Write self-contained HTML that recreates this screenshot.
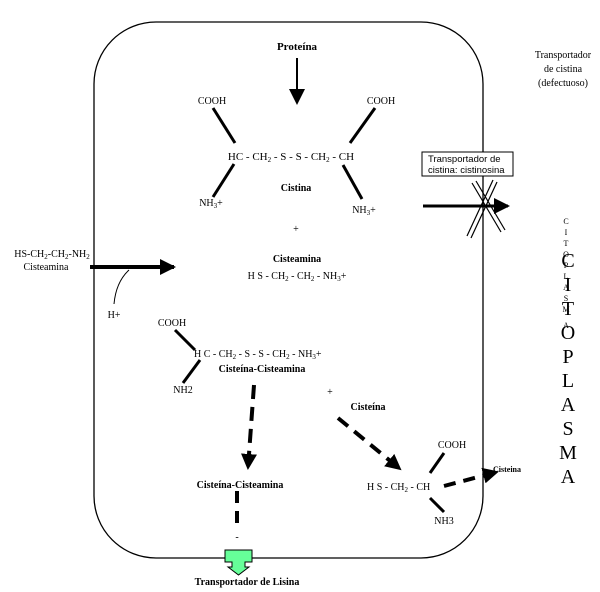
<!DOCTYPE html>
<html><head><meta charset="utf-8"><style>
body{margin:0;background:#fff}
svg{display:block}
text{font-family:"Liberation Serif",serif;fill:#000}
.b{font-weight:bold}
.s{font-family:"Liberation Sans",sans-serif}
</style></head><body>
<svg width="600" height="592" viewBox="0 0 600 592" xmlns="http://www.w3.org/2000/svg">
<defs>
<marker id="ah" markerWidth="10" markerHeight="10" refX="8" refY="5" orient="auto" markerUnits="userSpaceOnUse"><path d="M0,0 L10,5 L0,10z" fill="#000"/></marker>
<marker id="ahb" markerWidth="16" markerHeight="16" refX="14" refY="8" orient="auto" markerUnits="userSpaceOnUse"><path d="M0,0 L16,8 L0,16z" fill="#000"/></marker>
</defs>
<rect x="94" y="22" width="389" height="536" rx="62" ry="62" fill="none" stroke="#000" stroke-width="1.3"/>

<text x="297" y="50" font-size="11" class="b" text-anchor="middle">Proteína</text>
<line x1="297" y1="58" x2="297" y2="103" stroke="#000" stroke-width="2" marker-end="url(#ahb)"/>

<text x="212" y="104" font-size="10" text-anchor="middle">COOH</text>
<text x="381" y="104" font-size="10" text-anchor="middle">COOH</text>
<line x1="213" y1="108" x2="235" y2="143" stroke="#000" stroke-width="3"/>
<line x1="375" y1="108" x2="350" y2="143" stroke="#000" stroke-width="3"/>
<text x="291" y="160" font-size="11" text-anchor="middle">HC - CH<tspan font-size="7" dy="2">2</tspan><tspan dy="-2"> - S - S - CH</tspan><tspan font-size="7" dy="2">2</tspan><tspan dy="-2"> - CH</tspan></text>
<line x1="234" y1="164" x2="213" y2="197" stroke="#000" stroke-width="3"/>
<line x1="343" y1="165" x2="362" y2="199" stroke="#000" stroke-width="3"/>
<text x="211" y="206" font-size="10" text-anchor="middle">NH<tspan font-size="7" dy="2">3</tspan><tspan dy="-2">+</tspan></text>
<text x="364" y="213" font-size="10" text-anchor="middle">NH<tspan font-size="7" dy="2">3</tspan><tspan dy="-2">+</tspan></text>
<text x="296" y="191" font-size="10" class="b" text-anchor="middle">Cistina</text>
<text x="296" y="232" font-size="10" text-anchor="middle">+</text>
<text x="297" y="262" font-size="10" class="b" text-anchor="middle">Cisteamina</text>
<text x="297" y="279" font-size="10" text-anchor="middle">H S - CH<tspan font-size="7" dy="2">2</tspan><tspan dy="-2"> - CH</tspan><tspan font-size="7" dy="2">2</tspan><tspan dy="-2"> - NH</tspan><tspan font-size="7" dy="2">3</tspan><tspan dy="-2">+</tspan></text>

<rect x="422" y="152" width="91" height="24" fill="#fff" stroke="#000" stroke-width="1"/>
<text x="428" y="162" font-size="9.5" class="s">Transportador de</text>
<text x="428" y="173" font-size="9.5" class="s">cistina: cistinosina</text>
<line x1="423" y1="206" x2="508" y2="206" stroke="#000" stroke-width="3" marker-end="url(#ahb)"/>
<line x1="472" y1="183" x2="501" y2="232" stroke="#000" stroke-width="1.2"/>
<line x1="476" y1="181" x2="505" y2="230" stroke="#000" stroke-width="1.2"/>
<line x1="497" y1="182" x2="471" y2="238" stroke="#000" stroke-width="1.2"/>
<line x1="493" y1="180" x2="467" y2="236" stroke="#000" stroke-width="1.2"/>

<text x="563" y="58" font-size="10" text-anchor="middle">Transportador</text>
<text x="563" y="72" font-size="10" text-anchor="middle">de cistina</text>
<text x="563" y="86" font-size="10" text-anchor="middle">(defectuoso)</text>

<g font-size="8" text-anchor="middle">
<text x="566" y="224">C</text><text x="566" y="235">I</text><text x="566" y="246">T</text><text x="566" y="257">O</text><text x="566" y="268">P</text><text x="566" y="279">L</text><text x="566" y="290">A</text><text x="566" y="301">S</text><text x="566" y="312">M</text><text x="566" y="328">A</text>
</g>
<g font-size="20" text-anchor="middle">
<text x="568" y="267">C</text><text x="568" y="291">I</text><text x="568" y="315">T</text><text x="568" y="339">O</text><text x="568" y="363">P</text><text x="568" y="387">L</text><text x="568" y="411">A</text><text x="568" y="435">S</text><text x="568" y="459">M</text><text x="568" y="483">A</text>
</g>

<text x="52" y="257" font-size="10" text-anchor="middle">HS-CH<tspan font-size="7" dy="2">2</tspan><tspan dy="-2">-CH</tspan><tspan font-size="7" dy="2">2</tspan><tspan dy="-2">-NH</tspan><tspan font-size="7" dy="2">2</tspan></text>
<text x="46" y="270" font-size="10" text-anchor="middle">Cisteamina</text>
<line x1="90" y1="267" x2="174" y2="267" stroke="#000" stroke-width="4" marker-end="url(#ahb)"/>
<path d="M129,270 Q116,282 114,304" fill="none" stroke="#000" stroke-width="1"/>
<text x="114" y="318" font-size="10" text-anchor="middle">H+</text>

<text x="172" y="326" font-size="10" text-anchor="middle">COOH</text>
<line x1="175" y1="330" x2="195" y2="350" stroke="#000" stroke-width="3"/>
<text x="194" y="357" font-size="10">H C - CH<tspan font-size="7" dy="2">2</tspan><tspan dy="-2"> - S - S - CH</tspan><tspan font-size="7" dy="2">2</tspan><tspan dy="-2"> - NH</tspan><tspan font-size="7" dy="2">3</tspan><tspan dy="-2">+</tspan></text>
<text x="262" y="372" font-size="10" class="b" text-anchor="middle">Cisteína-Cisteamina</text>
<line x1="200" y1="360" x2="183" y2="383" stroke="#000" stroke-width="3"/>
<text x="183" y="393" font-size="10" text-anchor="middle">NH2</text>

<line x1="254" y1="385" x2="248" y2="468" stroke="#000" stroke-width="4" stroke-dasharray="14,8" marker-end="url(#ahb)"/>
<text x="240" y="488" font-size="10" class="b" text-anchor="middle">Cisteína-Cisteamina</text>
<line x1="237" y1="491" x2="237" y2="530" stroke="#000" stroke-width="4" stroke-dasharray="12,8"/>
<text x="237" y="540" font-size="10" text-anchor="middle">-</text>

<text x="330" y="395" font-size="10" text-anchor="middle">+</text>
<text x="368" y="410" font-size="10" class="b" text-anchor="middle">Cisteína</text>
<line x1="338" y1="418" x2="400" y2="469" stroke="#000" stroke-width="4" stroke-dasharray="13,8" marker-end="url(#ahb)"/>
<text x="367" y="490" font-size="10">H S - CH<tspan font-size="7" dy="2">2</tspan><tspan dy="-2"> - CH</tspan></text>
<text x="452" y="448" font-size="10" text-anchor="middle">COOH</text>
<line x1="430" y1="473" x2="444" y2="453" stroke="#000" stroke-width="3"/>
<line x1="430" y1="498" x2="444" y2="512" stroke="#000" stroke-width="3"/>
<text x="444" y="524" font-size="10" text-anchor="middle">NH3</text>
<line x1="444" y1="486" x2="497" y2="472" stroke="#000" stroke-width="4" stroke-dasharray="12,8" marker-end="url(#ahb)"/>
<text x="493" y="472" font-size="8" class="b">Cisteina</text>

<path d="M225,550 h27 v12 h-7 v5 h4 l-10.5,8 l-10.5,-8 h4 v-5 h-7z" fill="#66ff99" stroke="#000" stroke-width="1"/>
<text x="247" y="585" font-size="10" class="b" text-anchor="middle">Transportador de Lisina</text>
</svg>
</body></html>
